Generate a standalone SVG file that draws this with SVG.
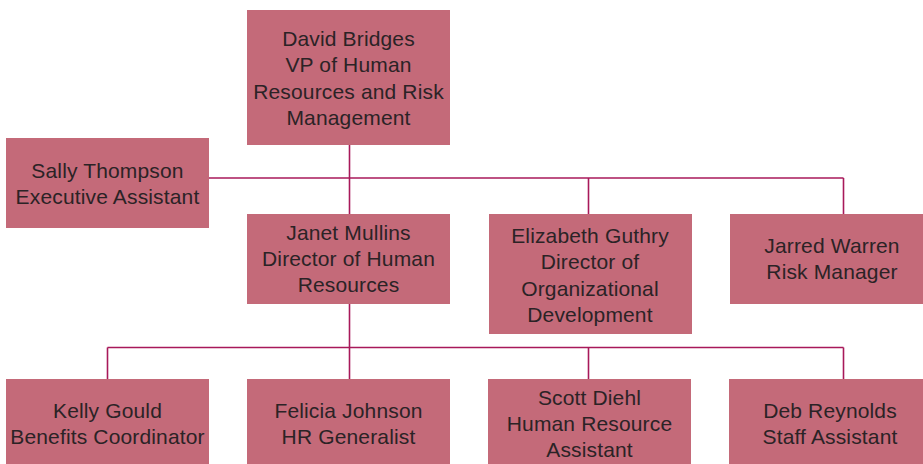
<svg xmlns="http://www.w3.org/2000/svg" width="923" height="464" viewBox="0 0 923 464">
<style>
.box{fill:#c46a79}
.t{font-family:"Liberation Sans",Arial,sans-serif;font-size:21px;fill:#2b2326;text-anchor:middle;letter-spacing:0.15px}
.c{stroke:#a8195a;stroke-width:1.6;fill:none}
</style>
<rect width="923" height="464" fill="#ffffff"/>
<g id="connectors">
<line class="c" x1="349.5" y1="145" x2="349.5" y2="214"/>
<line class="c" x1="209" y1="178" x2="843.5" y2="178"/>
<line class="c" x1="588.5" y1="178" x2="588.5" y2="214"/>
<line class="c" x1="843.5" y1="178" x2="843.5" y2="214"/>
<line class="c" x1="349.5" y1="303" x2="349.5" y2="379"/>
<line class="c" x1="107.5" y1="347.5" x2="843.5" y2="347.5"/>
<line class="c" x1="107.5" y1="347.5" x2="107.5" y2="379"/>
<line class="c" x1="588.5" y1="347.5" x2="588.5" y2="379"/>
<line class="c" x1="843.5" y1="347.5" x2="843.5" y2="379"/>
</g>
<g id="david">
<rect class="box" x="247" y="10" width="203" height="135"/>
<text class="t" x="348.5" y="46">David Bridges</text>
<text class="t" x="348.5" y="72">VP of Human</text>
<text class="t" x="348.5" y="99">Resources and Risk</text>
<text class="t" x="348.5" y="125">Management</text>
</g>
<g id="sally">
<rect class="box" x="6" y="138" width="203" height="90"/>
<text class="t" x="107.5" y="178">Sally Thompson</text>
<text class="t" x="107.5" y="204">Executive Assistant</text>
</g>
<g id="janet">
<rect class="box" x="247" y="214" width="203" height="90"/>
<text class="t" x="348.5" y="240">Janet Mullins</text>
<text class="t" x="348.5" y="266">Director of Human</text>
<text class="t" x="348.5" y="292">Resources</text>
</g>
<g id="elizabeth">
<rect class="box" x="489" y="214" width="203" height="120"/>
<text class="t" x="590" y="243">Elizabeth Guthry</text>
<text class="t" x="590" y="269">Director of</text>
<text class="t" x="590" y="296">Organizational</text>
<text class="t" x="590" y="322">Development</text>
</g>
<g id="jarred">
<rect class="box" x="730" y="214" width="193" height="90"/>
<text class="t" x="832" y="253">Jarred Warren</text>
<text class="t" x="832" y="279">Risk Manager</text>
</g>
<g id="kelly">
<rect class="box" x="6" y="379" width="203" height="85"/>
<text class="t" x="107.5" y="418">Kelly Gould</text>
<text class="t" x="107.5" y="444">Benefits Coordinator</text>
</g>
<g id="felicia">
<rect class="box" x="247" y="379" width="203" height="85"/>
<text class="t" x="348.5" y="418">Felicia Johnson</text>
<text class="t" x="348.5" y="444">HR Generalist</text>
</g>
<g id="scott">
<rect class="box" x="488" y="379" width="203" height="85"/>
<text class="t" x="589.5" y="405">Scott Diehl</text>
<text class="t" x="589.5" y="431">Human Resource</text>
<text class="t" x="589.5" y="457">Assistant</text>
</g>
<g id="deb">
<rect class="box" x="729" y="379" width="194" height="85"/>
<text class="t" x="830" y="418">Deb Reynolds</text>
<text class="t" x="830" y="444">Staff Assistant</text>
</g>
</svg>
